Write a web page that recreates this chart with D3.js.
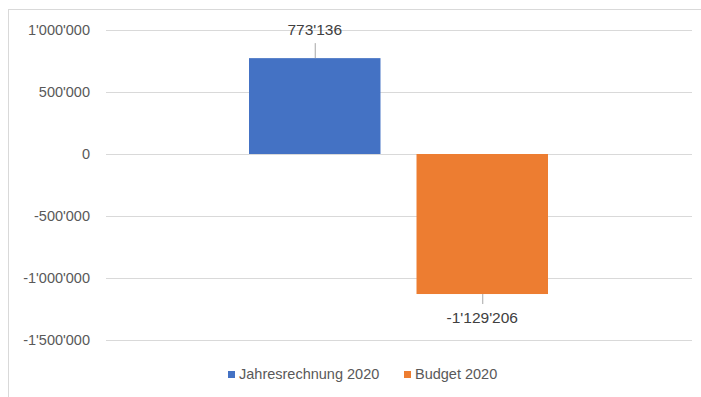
<!DOCTYPE html>
<html><head><meta charset="utf-8">
<script src="https://cdn.jsdelivr.net/npm/d3@7"></script>
<style>
html,body{margin:0;padding:0;background:#fff;}
svg{display:block;font-family:"Liberation Sans",Arial,sans-serif;}
</style></head>
<body><svg id="c" width="701" height="397"></svg>
<script>
const series = ["Jahresrechnung 2020", "Budget 2020"];
const values = [773136, -1129206];
const colors = ["#4472C4", "#ED7D31"];
const yTicks = [-1500000, -1000000, -500000, 0, 500000, 1000000];

const loc = d3.formatLocale({decimal: ".", thousands: "'", grouping: [3], currency: ["", ""], minus: "-"});
const fmt = loc.format(",d");

const svg = d3.select("#c");
// chart border
svg.append("rect").attr("x", 8.5).attr("y", 9.5).attr("width", 700).attr("height", 400)
  .attr("fill", "#fff").attr("stroke", "#d9d9d9").attr("stroke-width", 1);

const left = 106, right = 692;
const y = d3.scaleLinear().domain([-1500000, 1000000]).range([340, 30]);
const x = d3.scaleBand().domain(series).range([249, 548]).paddingInner(0.215);

// gridlines
svg.append("g").selectAll("line").data(yTicks).join("line")
  .attr("x1", left).attr("x2", right)
  .attr("y1", d => Math.round(y(d)) + 0.5).attr("y2", d => Math.round(y(d)) + 0.5)
  .attr("stroke", "#d9d9d9").attr("stroke-width", 1);

// y axis labels
const yAxis = d3.axisLeft(y).tickValues(yTicks).tickFormat(fmt).tickSize(0).tickPadding(0);
const gy = svg.append("g").attr("transform", `translate(90,0)`).call(yAxis);
gy.select(".domain").remove();
gy.selectAll("text").attr("fill", "#595959").attr("font-size", "14.5px").attr("font-family", "'Liberation Sans',Arial,sans-serif");

// bars
svg.append("g").selectAll("rect").data(values).join("rect")
  .attr("x", (d, i) => x(series[i]))
  .attr("width", x.bandwidth())
  .attr("y", d => y(Math.max(0, d)))
  .attr("height", d => Math.abs(y(d) - y(0)))
  .attr("fill", (d, i) => colors[i]);

// labels with leader lines
const lab = svg.append("g");
values.forEach((d, i) => {
  const cx = x(series[i]) + x.bandwidth() / 2;
  const yb = y(d);
  const pos = d >= 0;
  const lineEnd = pos ? yb - 15 : yb + 10;
  lab.append("line").attr("x1", cx + 0.5).attr("x2", cx + 0.5).attr("y1", yb).attr("y2", lineEnd)
    .attr("stroke", "#a6a6a6").attr("stroke-width", 1);
  lab.append("text").attr("x", cx).attr("y", pos ? yb - 27 : yb + 25)
    .attr("text-anchor", "middle").attr("dominant-baseline", "middle")
    .attr("fill", "#404040").attr("font-size", "15.5px").text(fmt(d));
});

// legend
const leg = svg.append("g");
const legItems = [{x: 228, tx: 239}, {x: 404, tx: 415}];
series.forEach((s, i) => {
  leg.append("rect").attr("x", legItems[i].x).attr("y", 371).attr("width", 7).attr("height", 7).attr("fill", colors[i]);
  leg.append("text").attr("x", legItems[i].tx).attr("y", 375).attr("dominant-baseline", "middle")
    .attr("fill", "#595959").attr("font-size", "14.5px").text(s);
});
</script></body></html>
